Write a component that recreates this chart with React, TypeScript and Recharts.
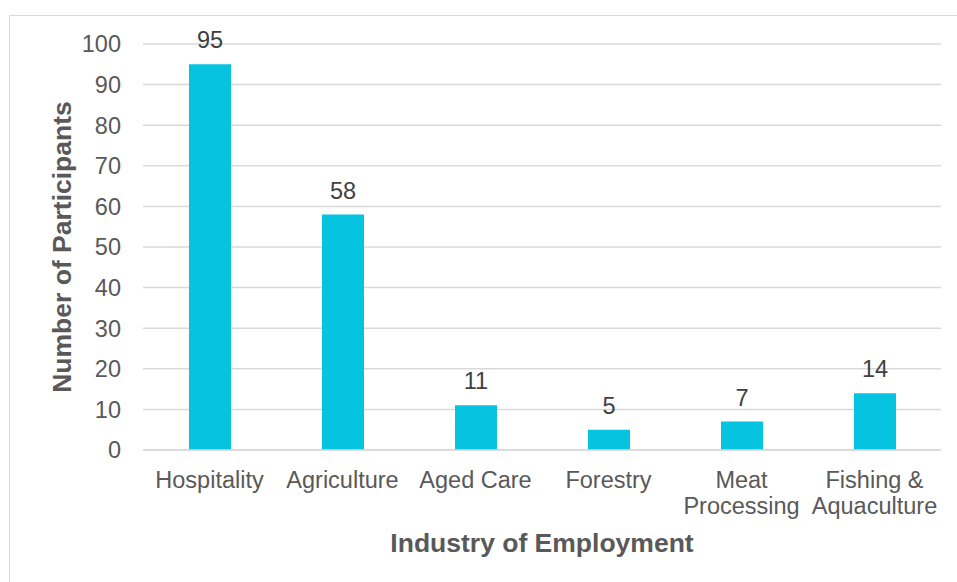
import React from 'react';
import { BarChart, Bar, XAxis, YAxis, CartesianGrid, LabelList, Text } from 'recharts';

const industries = ['Hospitality', 'Agriculture', 'Aged Care', 'Forestry', 'Meat Processing', 'Fishing & Aquaculture'];
const participants = [95, 58, 11, 5, 7, 14];
const yTicks = [0, 10, 20, 30, 40, 50, 60, 70, 80, 90, 100];

const data = industries.map((name, i) => ({ name, value: participants[i] }));

const TEXT = '#595959';
const BAR = '#06C3DF';
const GRID = '#D9D9D9';
const FONT = '"Liberation Sans", Arial, sans-serif';

// category labels wrap inside their band, like the original
const CategoryTick = (props: any) => {
  const { x, y, payload } = props;
  return (
    <Text
      x={x}
      y={y + 13}
      width={118}
      textAnchor="middle"
      verticalAnchor="start"
      lineHeight={26}
      style={{ fontSize: 23.5, fontFamily: FONT }}
      fill={TEXT}
    >
      {payload.value}
    </Text>
  );
};

const YTitle = ({ viewBox }: any) => {
  const cx = viewBox.x + 62;
  const cy = viewBox.y + viewBox.height / 2;
  return (
    <text x={cx} y={cy} transform={`rotate(-90 ${cx} ${cy})`} textAnchor="middle" dominantBaseline="central"
      fontSize={26.5} fontWeight="bold" fontFamily={FONT} fill={TEXT}>
      Number of Participants
    </text>
  );
};

const XTitle = ({ viewBox }: any) => {
  const cx = viewBox.x + viewBox.width / 2;
  return (
    <text x={cx} y={543} textAnchor="middle" dominantBaseline="central"
      fontSize={26.5} fontWeight="bold" fontFamily={FONT} fill={TEXT}>
      Industry of Employment
    </text>
  );
};

export default function App() {
  return (
    <div style={{ position: 'absolute', left: 0, top: 0, width: 957, height: 582, overflow: 'hidden', background: '#fff' }}>
      <div style={{ position: 'absolute', left: 9, top: 15, width: 1000, height: 700, border: `1px solid ${GRID}` }} />
      <div style={{ position: 'absolute', left: 0, top: 0 }}>
        <BarChart width={957} height={582} data={data} margin={{ top: 44, right: 16, bottom: 0, left: 0 }}>
          <CartesianGrid vertical={false} stroke={GRID} strokeWidth={1.5} />
          <XAxis
            dataKey="name"
            height={132}
            axisLine={{ stroke: GRID, strokeWidth: 1.5 }}
            tickLine={false}
            interval={0}
            tick={<CategoryTick />}
            label={<XTitle />}
          />
          <YAxis
            width={143}
            domain={[0, 100]}
            ticks={yTicks}
            axisLine={false}
            tickLine={false}
            tickMargin={16}
            tick={{ fontSize: 23.5, fill: TEXT, fontFamily: FONT }}
            label={<YTitle />}
          />
          <Bar dataKey="value" fill={BAR} barSize={42} isAnimationActive={false}>
            <LabelList dataKey="value" position="top" offset={16} fontSize={23.5} fill="#404040" fontFamily={FONT} />
          </Bar>
        </BarChart>
      </div>
    </div>
  );
}
